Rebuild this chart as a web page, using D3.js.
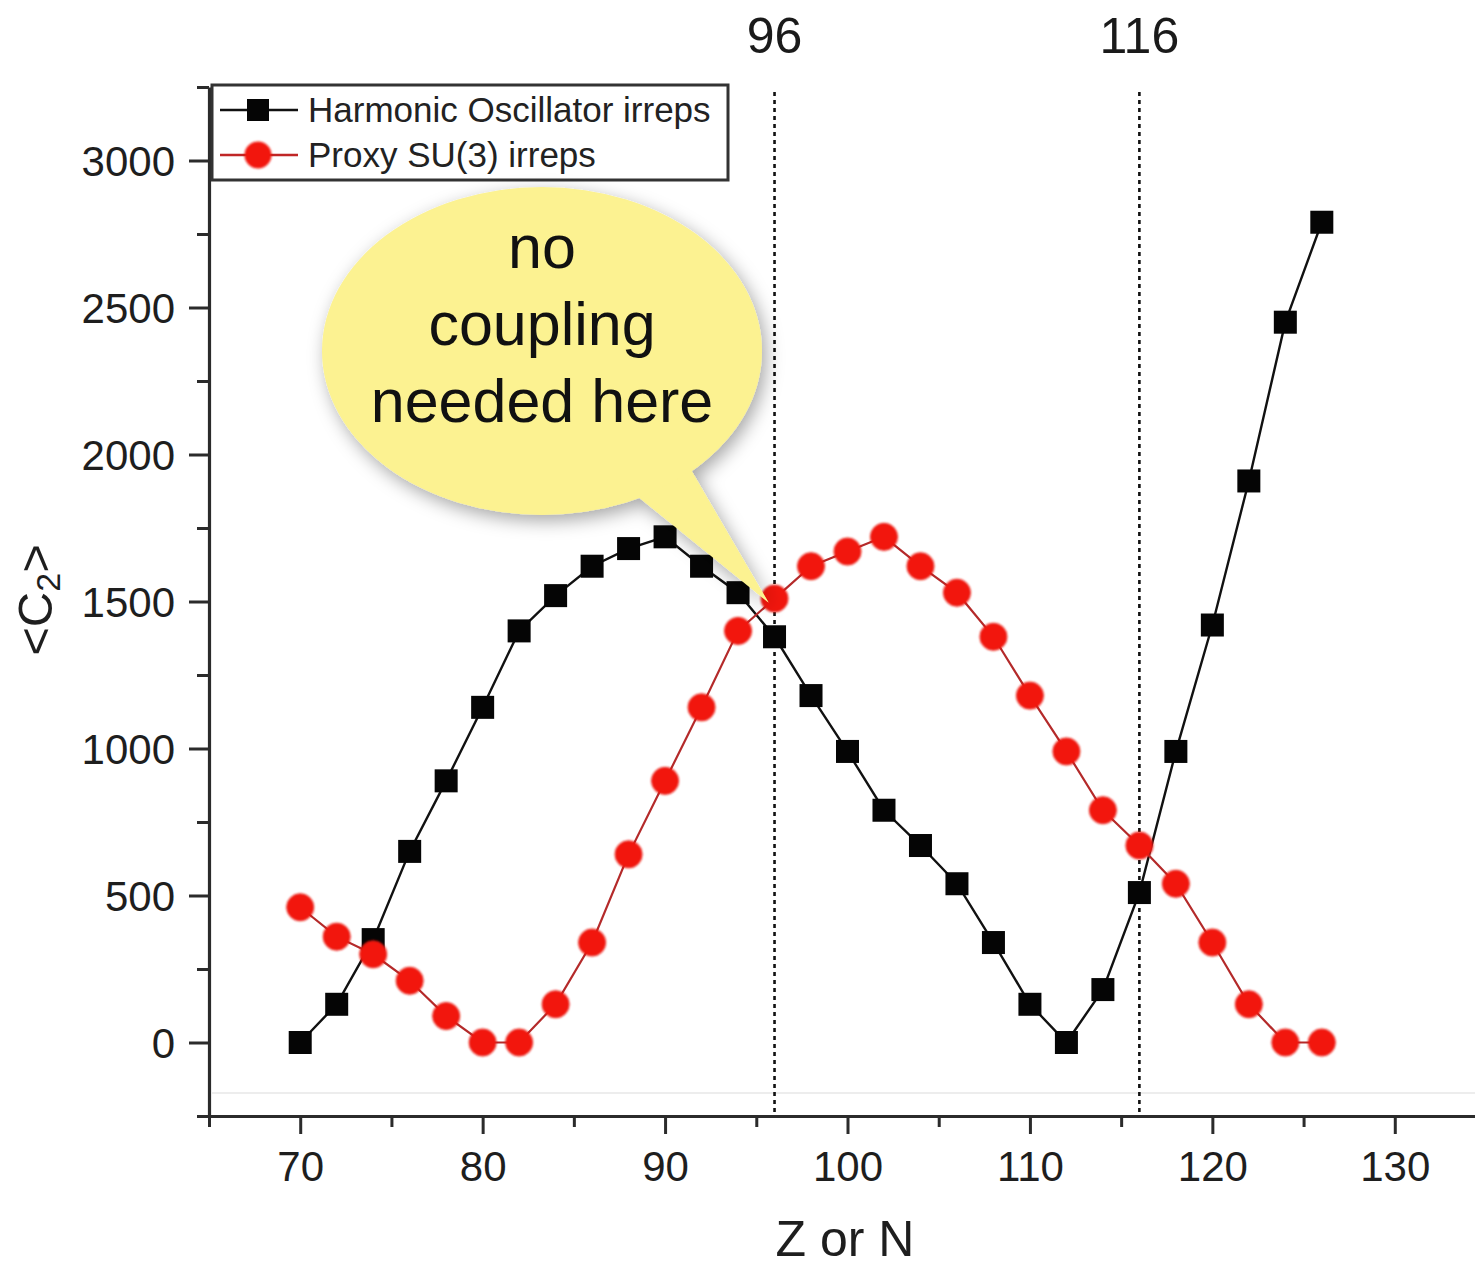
<!DOCTYPE html>
<html>
<head>
<meta charset="utf-8">
<script src="https://cdn.jsdelivr.net/npm/d3@7"></script>
<style>
  html, body { margin: 0; padding: 0; background: #fff; }
  svg { display: block; font-family: "Liberation Sans", Arial, Helvetica, sans-serif; }
</style>
</head>
<body>
<svg id="chart" width="1475" height="1272"></svg>
<script>
// Shell occupancy (Z or N) and average second-order Casimir <C2>
const nucleons = [70, 72, 74, 76, 78, 80, 82, 84, 86, 88, 90, 92, 94, 96, 98, 100,
                  102, 104, 106, 108, 110, 112, 114, 116, 118, 120, 122, 124, 126];
const harmonicC2 = [0, 130, 350, 650, 890, 1140, 1400, 1520, 1620, 1680, 1720, 1620, 1530, 1380, 1180, 990,
                    790, 670, 540, 340, 130, 0, 180, 510, 990, 1420, 1910, 2450, 2790];
const proxyC2 = [460, 360, 300, 210, 90, 0, 0, 130, 340, 640, 890, 1140, 1400, 1510, 1620, 1670,
                 1720, 1620, 1530, 1380, 1180, 990, 790, 670, 540, 340, 130, 0, 0];
const markerLines = [96, 116];
const xTicks = [70, 80, 90, 100, 110, 120, 130];
const yTicks = [0, 500, 1000, 1500, 2000, 2500, 3000];
const seriesNames = ["Harmonic Oscillator irreps", "Proxy SU(3) irreps"];
const bubbleLines = ["no", "coupling", "needed here"];

const svg = d3.select("#chart");
const axisColor = "#2b2b2b";

const x = d3.scaleLinear().domain([65, 135]).range([209, 1486]);
const y = d3.scaleLinear().domain([-250, 3250]).range([1116, 87]);

const defs = svg.append("defs");
const shadow = defs.append("filter").attr("id", "bubbleShadow")
  .attr("x", "-20%").attr("y", "-20%").attr("width", "140%").attr("height", "140%");
shadow.append("feDropShadow").attr("dx", 4).attr("dy", 6).attr("stdDeviation", 9)
  .attr("flood-color", "#000").attr("flood-opacity", 0.35);
const soft = defs.append("filter").attr("id", "softEdge")
  .attr("x", "-30%").attr("y", "-30%").attr("width", "160%").attr("height", "160%");
soft.append("feGaussianBlur").attr("stdDeviation", 0.9);

// faint baseline band near the bottom axis
svg.append("line").attr("x1", 212).attr("x2", 1475).attr("y1", 1093).attr("y2", 1093)
  .attr("stroke", "#ededed").attr("stroke-width", 2);

// dashed shell-closure markers
svg.selectAll("line.closure").data(markerLines).enter().append("line")
  .attr("class", "closure")
  .attr("x1", d => x(d)).attr("x2", d => x(d))
  .attr("y1", 92).attr("y2", y.range()[0])
  .attr("stroke", "#111").attr("stroke-width", 2.6).attr("stroke-dasharray", "4,4");

svg.selectAll("text.closure").data(markerLines).enter().append("text")
  .attr("class", "closure")
  .attr("x", d => x(d)).attr("y", 53)
  .attr("text-anchor", "middle").attr("font-size", 50).attr("fill", "#1a1a1a")
  .text(d => d);

// axes
const xAxis = svg.append("g").attr("transform", `translate(0,${y.range()[0]})`);
xAxis.call(d3.axisBottom(x).tickValues(xTicks).tickSize(18).tickSizeOuter(0).tickPadding(17)
  .tickFormat(d3.format("d")));
const xMinor = svg.append("g").attr("transform", `translate(0,${y.range()[0]})`);
xMinor.call(d3.axisBottom(x).tickValues(d3.range(65, 135, 10)).tickSize(11).tickFormat(""));
xMinor.select(".domain").remove();

const yAxis = svg.append("g").attr("transform", `translate(${x.range()[0]},0)`);
yAxis.call(d3.axisLeft(y).tickValues(yTicks).tickSize(20).tickSizeOuter(0).tickPadding(14)
  .tickFormat(d3.format("d")));
const yMinor = svg.append("g").attr("transform", `translate(${x.range()[0]},0)`);
yMinor.call(d3.axisLeft(y).tickValues(d3.range(-250, 3300, 500)).tickSize(12).tickFormat(""));
yMinor.select(".domain").remove();

[xAxis, xMinor, yAxis, yMinor].forEach(g => {
  g.selectAll(".domain").attr("stroke", axisColor).attr("stroke-width", 3.2);
  g.selectAll(".tick line").attr("stroke", axisColor).attr("stroke-width", 3);
  g.selectAll(".tick text").attr("fill", "#1e1e1e").attr("font-size", 42)
    .attr("font-family", "\"Liberation Sans\", Arial, sans-serif");
});
yAxis.selectAll(".tick text").attr("dy", "0.36em");

// axis titles
svg.append("text").attr("x", 845).attr("y", 1256).attr("text-anchor", "middle")
  .attr("font-size", 50).attr("fill", "#1e1e1e").text("Z or N");

const yTitle = svg.append("text")
  .attr("transform", "translate(52,600) rotate(-90)")
  .attr("text-anchor", "middle").attr("font-size", 49).attr("fill", "#1e1e1e");
yTitle.append("tspan").text("<C");
yTitle.append("tspan").attr("font-size", 34).attr("dy", 8).text("2");
yTitle.append("tspan").attr("dy", -8).text(">");

// series lines
const points = (vals) => nucleons.map((n, i) => [n, vals[i]]);
const line = d3.line().x(d => x(d[0])).y(d => y(d[1]));

svg.append("path").datum(points(harmonicC2)).attr("d", line)
  .attr("fill", "none").attr("stroke", "#111").attr("stroke-width", 2.4);
svg.append("path").datum(points(proxyC2)).attr("d", line)
  .attr("fill", "none").attr("stroke", "#b42a2a").attr("stroke-width", 2.2);

// markers
const sq = 23;
svg.append("g").selectAll("rect").data(points(harmonicC2)).enter().append("rect")
  .attr("x", d => x(d[0]) - sq / 2).attr("y", d => y(d[1]) - sq / 2)
  .attr("width", sq).attr("height", sq).attr("fill", "#050505");
svg.append("g").attr("filter", "url(#softEdge)").selectAll("circle").data(points(proxyC2)).enter().append("circle")
  .attr("cx", d => x(d[0])).attr("cy", d => y(d[1])).attr("r", 13.5)
  .attr("fill", "#f2140c").attr("stroke", "#e81a12").attr("stroke-width", 1);

// legend
const legend = svg.append("g");
legend.append("rect").attr("x", 212).attr("y", 85).attr("width", 516).attr("height", 95)
  .attr("fill", "#fff").attr("stroke", "#333").attr("stroke-width", 3);
const rows = [
  { name: seriesNames[0], color: "#111", y: 110, shape: "square" },
  { name: seriesNames[1], color: "#c02626", y: 155, shape: "circle" }
];
rows.forEach(r => {
  legend.append("line").attr("x1", 220).attr("x2", 298).attr("y1", r.y).attr("y2", r.y)
    .attr("stroke", r.color).attr("stroke-width", 2.4);
  if (r.shape === "square") {
    legend.append("rect").attr("x", 258 - 11).attr("y", r.y - 11).attr("width", 22).attr("height", 22)
      .attr("fill", "#050505");
  } else {
    legend.append("circle").attr("cx", 258).attr("cy", r.y).attr("r", 13.5).attr("fill", "#f2140c")
      .attr("filter", "url(#softEdge)");
  }
  legend.append("text").attr("x", 308).attr("y", r.y + 12).attr("font-size", 35)
    .attr("fill", "#222").text(r.name);
});

// callout bubble pointing at the crossing near Z or N = 96
const cx = 542, cy = 351, rx = 220, ry = 164;
const tip = [x(96) - 6, y(1510) + 4];
const bubble = svg.append("g").attr("filter", "url(#bubbleShadow)");
bubble.append("ellipse").attr("cx", cx).attr("cy", cy).attr("rx", rx).attr("ry", ry)
  .attr("fill", "#fcf291");
bubble.append("path")
  .attr("d", `M632,492 L${tip[0]},${tip[1]} L690,468 Z`)
  .attr("fill", "#fcf291");
// cover the seam between tail and ellipse
svg.append("path")
  .attr("d", `M628,486 L${tip[0]},${tip[1]} L684,462 Z`)
  .attr("fill", "#fcf291");
svg.append("ellipse").attr("cx", cx).attr("cy", cy).attr("rx", rx - 1).attr("ry", ry - 1)
  .attr("fill", "#fcf291");

svg.append("g").selectAll("text").data(bubbleLines).enter().append("text")
  .attr("x", cx).attr("y", (d, i) => 268 + i * 77)
  .attr("text-anchor", "middle").attr("font-size", 61).attr("fill", "#111")
  .text(d => d);
</script>
</body>
</html>
